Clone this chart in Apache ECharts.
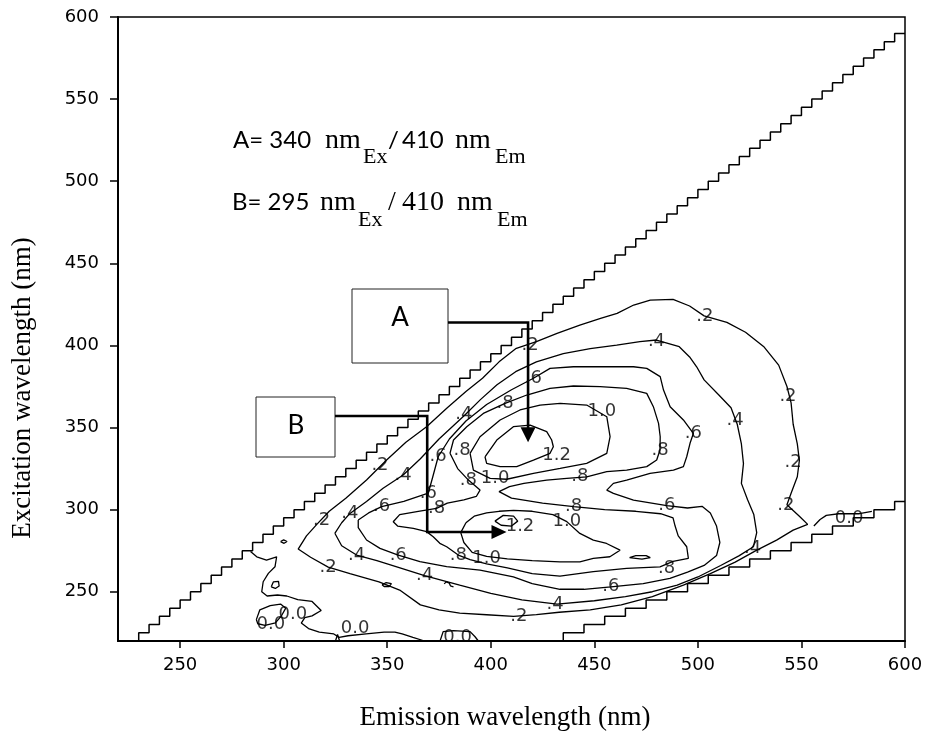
<!DOCTYPE html>
<html>
<head>
<meta charset="utf-8">
<title>EEM contour</title>
<script src="https://cdn.jsdelivr.net/npm/echarts@6.0.0/dist/echarts.min.js"></script>
<style>
html,body{margin:0;padding:0;background:#ffffff;}
#chart{width:926px;height:738px;}
</style>
</head>
<body>
<div id="chart"></div>
<script>
// ---------- axis ticks ----------
const xTicks = [250, 300, 350, 400, 450, 500, 550, 600];
const yTicks = [250, 300, 350, 400, 450, 500, 550, 600];

// ---------- scatter boundaries (staircases) [emission, excitation] ----------
const upperStairEm = [230,235,240,245,250,255,260,265,270,275,280,285,290,295,300,305,310,315,320,325,330,335,340,345,350,355,360,365,370,375,380,385,390,395,400,405,410,415,420,425,430,435,440,445,450,455,460,465,470,475,480,485,490,495,500,505,510,515,520,525,530,535,540,545,550,555,560,565,570,575,580,585,590,595,600];
const upperStairEx = [220,225,230,235,240,245,250,255,260,265,270,275,280,285,290,295,300,305,310,315,320,325,330,335,340,345,350,355,360,365,370,375,380,385,390,395,400,405,410,415,420,425,430,435,440,445,450,455,460,465,470,475,480,485,490,495,500,505,510,515,520,525,530,535,540,545,550,555,560,565,570,575,580,585,590];
const lowerStairEm = [435,445,455,465,475,485,495,505,515,525,535,545,555,565,575,585,595,600];
const lowerStairEx = [220,225,230,235,240,245,250,255,260,265,270,275,280,285,290,295,300,305];

// ---------- contour lines [emission, excitation] ----------
const c02 = [[538,281.4],[546,287.5],[553,291],[549,296],[543,303],[545,310],[548,320],[549,330],[548,340],[546,352],[545,365],[543,375],[539,388],[532,399],[523,408],[514,414],[503,418],[496,424],[488,428],[477,427.6],[469,424.6],[461,419.5],[453,416.5],[443,412.4],[432,407.3],[422,402.3],[412,398],[404,390],[396,380],[388,372],[379,362],[369,350.5],[359,341],[349.7,330.2],[340,318],[330,307],[322,299],[316,291],[311,284],[307,276],[313,271],[321.5,265],[332,261],[346,256],[356,251],[366,242],[375,239],[385,237],[398,236],[411,235],[422,236],[433,237.5],[448,239],[463,242],[478,247],[493,254],[506,261],[518,268],[528,275],[538,281.4]];
const c04 = [[324.7,285.6],[328,292],[332,297.7],[340,305],[348,313],[357.7,321.1],[366,331],[375,343],[381,350],[387.5,357.6],[395,367],[403,376],[412,384],[422,390],[435,395],[448,398],[460.8,400.2],[472,402.3],[480,403.3],[491,399.2],[496,393],[499.4,387],[503,379],[510,370],[516,362],[519,352],[521,340],[522,328],[521,316],[524,306],[527,297],[528.4,286],[526.8,277.4],[520,272],[511,266],[500,259],[490,254],[478,250],[465,247],[450,244.5],[432,242.5],[415,245],[400,249],[385,254],[368,259.8],[355,265],[345,269],[335.2,272.35],[328,278],[324.7,285.6]];
const c06 = [[336,293.7],[341,298],[347.3,301.8],[358,305],[369.8,310],[372,320],[374.6,332.2],[380,343],[388,354],[398,364],[410,373],[420.6,380],[428.6,386],[439.9,387],[452.8,387],[468.9,387],[475.3,386],[481.8,381],[483.4,372.8],[486.6,362.7],[493,354.6],[497.8,346.4],[496.2,340.4],[494.6,332.2],[493,326.2],[488.2,324.1],[476.9,322.1],[465.6,318],[459.2,316],[456,311.9],[459.2,309.9],[468.9,305.8],[485,302.5],[495,301],[502,302],[506,298],[509,290],[510.6,280],[509,272],[503,266],[495,262],[486.5,258.1],[473.6,255],[458,253],[445,251.5],[433.4,251.5],[420,255],[410.9,259],[394.8,263.2],[378.7,265.3],[365.8,268.3],[355.3,272.35],[346.5,276.4],[340,281.5],[336,289],[336,293.7]];
const c08 = [[380.3,334.3],[382,342.4],[388.4,350.5],[396.4,358.6],[406.9,364.7],[417.4,369.8],[428.6,373.9],[439.9,375.3],[452.8,374.9],[465.6,373.9],[475.3,370.8],[478.5,362.7],[481,352.5],[481.8,344.4],[481.7,336.3],[480.1,330.2],[475.3,326.2],[465.6,324.1],[456,323.1],[446.3,320],[436.7,319],[427,318],[416,316],[409,314],[404,311],[410,307],[425,304],[440,301.8],[455,300],[470,299],[482,297.5],[488,295],[489,290],[490.5,284],[494.6,277.4],[495.4,270.3],[488,268.5],[481.7,265.2],[465.6,264.2],[449.5,262.2],[433.4,259.5],[420,261],[408,264.5],[398,267],[390,269.5],[384.3,272.35],[378.7,277.4],[375.4,279.5],[372.2,283.5],[369,286.6],[362.6,288.6],[355,290],[352.9,292.6],[356,297],[365,299],[373.8,300.8],[379,304],[387,306],[393,308],[394.8,311.9],[389.2,318],[384,325],[380.3,334.3]];
const c10A = [[390,334.3],[394.8,344.4],[404.5,354.6],[414.1,360.7],[423.8,363.7],[433.5,364.7],[446.3,363.7],[456,356.6],[457.6,344.4],[456,334.3],[446.3,328.2],[433.5,325.1],[420.6,322.1],[407.7,318.5],[399.7,319],[391.6,324.1],[390,334.3]];
const c10B = [[388,292],[392,296],[398,298],[404,299],[411,299.5],[420,299],[430,297],[436.7,292.7],[443,285.5],[449.5,281.4],[455.9,279.4],[462.4,275.3],[457.5,271.3],[449.5,270.3],[443,268.2],[433.4,268.2],[420,269],[408,270],[398,271.5],[391,274],[387,280],[385.5,286],[388,292]];
const c10C = [[467,270.8],[470,272],[475,272],[477,270.8],[473,269.8],[467,270.8]];
const c12A = [[397.2,332.2],[402.9,342.4],[410.9,350.5],[419,351.5],[427,347.5],[429.4,342.4],[430.2,338.3],[428.6,334.3],[420.6,330.2],[412.5,326.2],[404.5,326.2],[398,328.2],[397.2,332.2]];
const c12B = [[402,293],[406,296.5],[411,296],[413,293],[410,290],[405,290.5],[402,293]];
const c00a = [[284,274.5],[287,271.3],[291.7,269.3],[296.6,271.3],[295.8,265.2],[292.6,261.2],[290.1,256.1],[289.4,250],[292,247.4],[297,248],[301.5,247.4],[306.8,245.2],[313.7,244.1],[318.1,238.6],[313.7,235.3],[310.2,234.2],[308.5,230.9],[312,227.6],[317.2,225.4],[324.2,224.3],[326.8,222.2],[331.1,223.2],[339.8,224.3],[348.5,225.4],[353.7,225.4],[357.2,224.3],[362.4,222.2],[368,220]];
const c00b = [[286.8,233],[288.5,239],[293.5,241.5],[298.5,242.5],[301,240],[299,235.5],[296,231],[291,229.5],[287.5,230.5],[286.8,233]];
const c00c = [[325,220],[326,224],[327,220]];
const c00d = [[375.5,220],[377,225.7],[382,226.3],[390,225.7],[392.4,222.6],[394,220]];
const c00e = [[556,290],[559,294],[562,296.5],[568,297.5],[578,297.5],[584,299]];
const isl1 = [[298.5,280.5],[300,281.6],[301.6,280.6],[300.2,279.5],[298.5,280.5]];
const isl2 = [[294,253],[295,256],[297.5,256.3],[297.8,253.5],[296,252],[294,253]];
const isl3 = [[347.5,254.2],[349.5,255.6],[352,255],[351,253.2],[348.5,253.2],[347.5,254.2]];
const isl4 = [[377.5,254.8],[378.5,256],[380,255.2],[380.5,253.6],[382,253]];

// ---------- contour level labels [emission, excitation, text] ----------
const contourLabels = [
 [419,400.2,'.2'],[346.5,327.2,'.2'],[318.3,293.7,'.2'],[321.5,265,'.2'],[413.5,234.8,'.2'],[503.4,417.5,'.2'],[543.5,369.2,'.2'],[546,329,'.2'],[542.5,302.8,'.2'],
 [387,358,'.4'],[357.7,321.1,'.4'],[332,297.7,'.4'],[335.2,272.35,'.4'],[368,259.8,'.4'],[431,242.4,'.4'],[480,402.3,'.4'],[518,354.6,'.4'],[526.4,276.4,'.4'],
 [420.6,380,'.6'],[374.6,332.2,'.6'],[369.8,310,'.6'],[347.3,301.8,'.6'],[355.3,272.35,'.6'],[458,253,'.6'],[497.8,346.4,'.6'],[485,302.6,'.6'],
 [406.9,364.7,'.8'],[386.2,336.3,'.8'],[389.2,318,'.8'],[373.8,300.8,'.8'],[384.3,272.35,'.8'],[443,320,'.8'],[440,301.8,'.8'],[481.7,336.3,'.8'],[484.9,264.2,'.8'],
 [453.6,359.7,'1.0'],[402.1,319,'1.0'],[436.7,292.7,'1.0'],[398,270.3,'1.0'],
 [431.8,333.3,'1.2'],[414.1,289.6,'1.2'],
 [304.4,236.5,'0.0'],[293.8,230.2,'0.0'],[334.5,227.6,'0.0'],[384,222.5,'0.0'],[573,295,'0.0']
];

// ---------- annotated peaks [emission, excitation] ----------
const peakA = { em: 418, exFrom: 414, exTo: 341 };
const peakB = { em: 369.3, exFrom: 357, exTo: 286.4, emTip: 407.6 };

const chart = echarts.init(document.getElementById('chart'), null, { renderer: 'canvas' });

function contour(data) {
  return { type: 'line', data: data, showSymbol: false, symbol: 'none', silent: true,
    animation: false, clip: true, z: 3, lineStyle: { color: '#000', width: 1.3 } };
}
const contourSets = [c02, c04, c06, c08, c10A, c10B, c10C, c12A, c12B, c00a, c00b, c00c, c00d, c00e, isl1, isl2, isl3, isl4];
const series = contourSets.map(contour);
series.push(Object.assign(contour(upperStairEm.map((e, i) => [e, upperStairEx[i]])), { step: 'start', lineStyle: { color: '#000', width: 1.5 } }));
series.push(Object.assign(contour(lowerStairEm.map((e, i) => [e, lowerStairEx[i]])), { step: 'start', lineStyle: { color: '#000', width: 1.5 } }));
series.push({
  type: 'scatter', data: contourLabels, symbolSize: 1, silent: true, animation: false, z: 4,
  itemStyle: { color: 'rgba(0,0,0,0)' },
  label: { show: true, position: 'inside', formatter: p => p.data[2],
    fontFamily: 'DejaVu Sans', fontSize: 18, color: '#000' }
});

const axisCommon = {
  type: 'value', min: 220, max: 600,
  axisLine: { show: true, lineStyle: { color: '#000', width: 2 } },
  splitLine: { show: false },
};

chart.setOption({
  animation: false,
  backgroundColor: '#ffffff',
  grid: { left: 118, right: 21, top: 17, bottom: 97, show: true, borderColor: '#000', borderWidth: 1.5, backgroundColor: 'transparent' },
  xAxis: Object.assign({}, axisCommon, {
    axisTick: { show: true, length: 7, inside: false, customValues: xTicks, lineStyle: { color: '#000', width: 1.5 } },
    axisLabel: { customValues: xTicks, fontFamily: 'DejaVu Sans', fontSize: 18, color: '#000', margin: 15 }
  }),
  yAxis: Object.assign({}, axisCommon, {
    axisTick: { show: true, length: 8, inside: false, customValues: yTicks, lineStyle: { color: '#000', width: 1.5 } },
    axisLabel: { customValues: yTicks, fontFamily: 'DejaVu Sans', fontSize: 18, color: '#000', margin: 19 }
  }),
  series: series
});

// ---------- annotations ----------
const P = pt => chart.convertToPixel({ gridIndex: 0 }, pt);
const fonts = {
  sans: { family: 'Lato', size: 24, mid: 0.387 },
  serif: { family: '"Liberation Serif"', size: 28, mid: 0.3375 },
  sub: { family: '"Liberation Serif"', size: 22, mid: 0.3375 }
};
const g = [];
function txt(text, x, y, font, align, rot) {
  g.push({ type: 'text', z: 30, x: x, y: y, rotation: rot || 0,
    style: { text: text, x: 0, y: 0, font: font, fill: '#000', align: align || 'left', textAlign: align || 'left', verticalAlign: 'middle', textVerticalAlign: 'middle' } });
}
function pieces(list, base, subBase) {
  list.forEach(p => {
    const f = fonts[p[1]];
    const b = p[1] === 'sub' ? subBase : base;
    txt(p[0], p[2], b - f.mid * f.size, f.size + 'px ' + f.family, 'left');
  });
}
pieces([['A= 340', 'sans', 233], ['nm', 'serif', 325], ['Ex', 'sub', 363], ['/', 'sans', 388], ['410', 'sans', 402], ['nm', 'serif', 455], ['Em', 'sub', 495]], 150, 165);
pieces([['B= 295', 'sans', 232], ['nm', 'serif', 320], ['Ex', 'sub', 358], ['/', 'serif', 388], ['410', 'serif', 402], ['nm', 'serif', 457], ['Em', 'sub', 497]], 212, 228);

// boxes
g.push({ type: 'rect', z: 25, shape: { x: 352, y: 289, width: 96, height: 74 }, style: { fill: '#fff', stroke: '#222', lineWidth: 1 } });
g.push({ type: 'rect', z: 25, shape: { x: 256, y: 397, width: 79, height: 60 }, style: { fill: '#fff', stroke: '#222', lineWidth: 1 } });
txt('A', 400, 318, '26px Lato', 'center');
txt('B', 296, 426, '26px Lato', 'center');

// connector A
const aCorner = P([peakA.em, peakA.exFrom]);
const aTip = P([peakA.em, peakA.exTo]);
g.push({ type: 'polyline', z: 26, shape: { points: [[448, aCorner[1]], aCorner, [aTip[0], aTip[1] - 12]] }, style: { stroke: '#000', lineWidth: 2.6, fill: null } });
g.push({ type: 'polygon', z: 26, shape: { points: [[aTip[0] - 7.5, aTip[1] - 15], [aTip[0] + 7.5, aTip[1] - 15], aTip] }, style: { fill: '#000' } });
// connector B
const bCorner = P([peakB.em, peakB.exFrom]);
const bElbow = P([peakB.em, peakB.exTo]);
const bTip = P([peakB.emTip, peakB.exTo]);
g.push({ type: 'polyline', z: 26, shape: { points: [[335, bCorner[1]], bCorner, bElbow, [bTip[0] - 12, bTip[1]]] }, style: { stroke: '#000', lineWidth: 2.6, fill: null } });
g.push({ type: 'polygon', z: 26, shape: { points: [[bTip[0] - 15, bTip[1] - 7], [bTip[0] - 15, bTip[1] + 7], bTip] }, style: { fill: '#000' } });

// axis titles
txt('Emission wavelength (nm)', 505, 718, '27px "Liberation Serif"', 'center');
txt('Excitation wavelength (nm)', 23, 388, '27px "Liberation Serif"', 'center', Math.PI / 2);

chart.setOption({ graphic: { elements: g } });
</script>
</body>
</html>
